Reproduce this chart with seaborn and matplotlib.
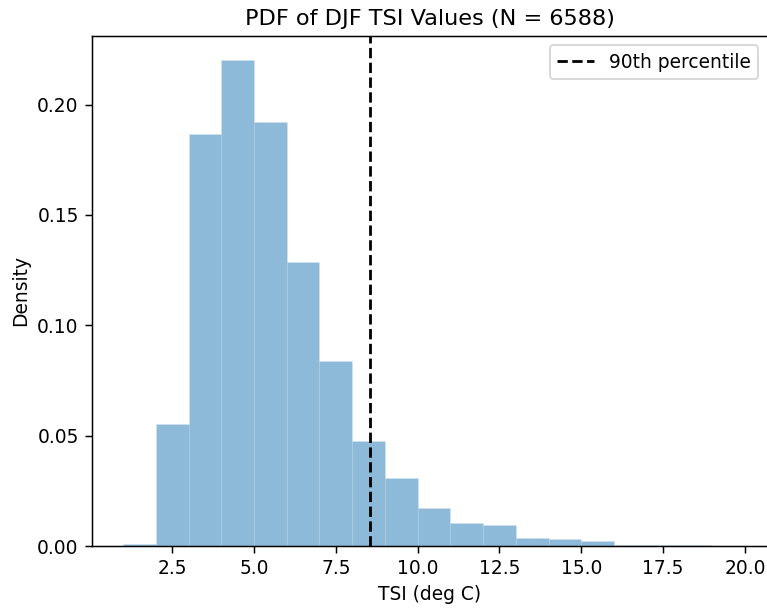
import numpy as np
import matplotlib
matplotlib.use("Agg")
import matplotlib.pyplot as plt
import seaborn as sns

# bin edges (deg C) and density per bin
bin_edges = list(range(1, 21))
bin_density = [0.0010, 0.0552, 0.1868, 0.2201, 0.1920, 0.1288, 0.0839,
               0.0474, 0.0310, 0.0174, 0.0106, 0.0095, 0.0036, 0.0032,
               0.0023, 0.0005, 0.0004, 0.0003, 0.0000]
p90 = 8.55
n_values = 6588

bin_centers = [e + 0.5 for e in bin_edges[:-1]]

DPI = 134
fig = plt.figure(figsize=(767 / DPI, 609 / DPI), dpi=DPI)
ax = fig.add_axes([91.7 / 767, 1 - 546 / 609, (767.8 - 91.7) / 767, (546 - 36) / 609])

sns.histplot(x=bin_centers, weights=bin_density, bins=bin_edges, stat="count",
             color="tab:blue", alpha=0.5, edgecolor=(1, 1, 1, 0.2), linewidth=0.3, ax=ax)
ax.axvline(p90, color="black", linestyle="--", linewidth=1.5, label="90th percentile")

ax.set_xlim(0.04, 20.7)
ax.set_title(f"PDF of DJF TSI Values (N = {n_values})")
ax.set_xlabel("TSI (deg C)")
ax.set_ylabel("Density")
ax.legend(loc="upper right")

fig.savefig("out.png", dpi=DPI)
